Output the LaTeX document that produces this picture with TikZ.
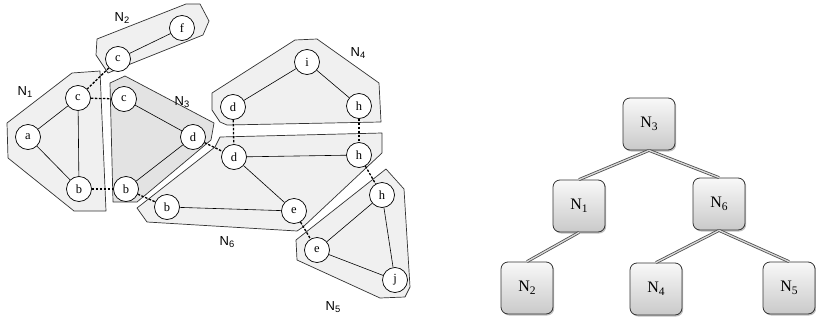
\documentclass[tikz,border=0pt]{standalone}
\usepackage{fontspec}
\setmainfont{Liberation Serif}
\newfontfamily\lblfont{Liberation Sans}
\usetikzlibrary{shadows}
\newcommand\Nsub[1]{N\raisebox{-0.35ex}{\scalebox{0.72}{#1}}}
\begin{document}
\begin{tikzpicture}[x=1pt,y=-1pt,
 vtx/.style={circle, draw, fill=white, minimum size=25pt, inner sep=0pt, font=\fontsize{12.5}{12.5}\selectfont, line width=0.7pt},
 hull/.style={draw=black!80, fill=gray!12, line width=0.7pt, line join=round},
 hulldark/.style={hull, fill=gray!22},
 lbl/.style={font=\lblfont\fontsize{13}{13}\selectfont, inner sep=0pt},
 sedge/.style={line width=0.6pt},
 dedge/.style={dash pattern=on 2.5pt off 1.5pt, line width=1.3pt},
 tbox/.style={draw=black!80, line width=0.8pt, rounded corners=7pt, minimum size=52pt, inner sep=0pt, top color=gray!5, bottom color=gray!42, drop shadow={shadow xshift=1.2pt, shadow yshift=-1.5pt, opacity=0.5}, font=\fontsize{16}{16}\selectfont},
 tlink/.style={draw=black!70, double=gray!30, double distance=1.3pt, line width=0.8pt}
]
\useasboundingbox (0,0) rectangle (816,324);
% hulls
\draw[hull] (7,123) -- (72,73) -- (100,71) -- (106,211) -- (74,211) -- (8,158) -- cycle;
\draw[hull] (97,39) -- (186,4) -- (200,4) -- (209,21) -- (203,35) -- (108,73) -- (96,55) -- cycle;
\draw[hulldark] (110,83) -- (125,76) -- (214,123) -- (211,140) -- (137,202) -- (113,202) -- cycle;
\draw[hull] (212,93) -- (295,40) -- (317,39) -- (379,83) -- (381,122) -- (227,125) -- (220,122) -- (212,110) -- cycle;
\draw[hull] (220,137) -- (382,133) -- (382,153) -- (303,227) -- (297,231) -- (147,222) -- (137,208) -- (215,147) -- cycle;
\draw[hull] (296,240) -- (386,169) -- (404,189) -- (410,287) -- (405,297) -- (380,298) -- (297,260) -- cycle;
% labels
\node[lbl] (L2) at (122,18) {\Nsub{2}};
\node[lbl] (L1) at (25,92) {\Nsub{1}};
\node[lbl] (L3) at (182,102) {\Nsub{3}};
\node[lbl] (L4) at (358,53) {\Nsub{4}};
\node[lbl] (L6) at (227,242) {\Nsub{6}};
\node[lbl] (L5) at (333,307) {\Nsub{5}};
% vertices
\node[vtx] (c2) at (118,59) {c};
\node[vtx] (f) at (182,28) {f};
\node[vtx] (c1) at (78,98) {c};
\node[vtx] (a) at (28,137) {a};
\node[vtx] (b1) at (79,189) {b};
\node[vtx] (c3) at (124,99) {c};
\node[vtx] (d3) at (193,137) {d};
\node[vtx] (b3) at (126,189) {b};
\node[vtx] (d4) at (233,107) {d};
\node[vtx] (i) at (307,62) {i};
\node[vtx] (h4) at (359,106) {h};
\node[vtx] (d6) at (234,157) {d};
\node[vtx] (h6) at (359,155) {h};
\node[vtx] (e6) at (294,211) {e};
\node[vtx] (b6) at (167,207) {b};
\node[vtx] (h5) at (382,195) {h};
\node[vtx] (e5) at (317,250) {e};
\node[vtx] (j) at (395,280) {j};
% solid edges
\draw[sedge] (c2) -- (f);
\draw[sedge] (a) -- (c1);
\draw[sedge] (a) -- (b1);
\draw[sedge] (c1) -- (b1);
\draw[sedge] (c3) -- (d3);
\draw[sedge] (d3) -- (b3);
\draw[sedge] (d4) -- (i);
\draw[sedge] (i) -- (h4);
\draw[sedge] (d6) -- (h6);
\draw[sedge] (d6) -- (e6);
\draw[sedge] (b6) -- (e6);
\draw[sedge] (h5) -- (e5);
\draw[sedge] (h5) -- (j);
\draw[sedge] (e5) -- (j);
% dashed separator edges
\draw[dedge] (c2) -- (c1);
\draw[dedge] (c1) -- (c3);
\draw[dedge] (b1) -- (b3);
\draw[dedge] (b3) -- (b6);
\draw[dedge] (d3) -- (d6);
\draw[dedge] (d4) -- (d6);
\draw[dedge] (h4) -- (h6);
\draw[dedge] (h6) -- (h5);
\draw[dedge] (e6) -- (e5);
% tree
\node[tbox] (T3) at (649,124) {\Nsub{3}};
\node[tbox] (T1) at (579,206) {\Nsub{1}};
\node[tbox] (T6) at (719,204) {\Nsub{6}};
\node[tbox] (T2) at (527,288) {\Nsub{2}};
\node[tbox] (T4) at (656,289) {\Nsub{4}};
\node[tbox] (T5) at (789,288) {\Nsub{5}};
\draw[tlink] (T3.south) -- (T1.north);
\draw[tlink] (T3.south) -- (T6.north);
\draw[tlink] (T1.south) -- (T2.north);
\draw[tlink] (T6.south) -- (T4.north);
\draw[tlink] (T6.south) -- (T5.north);
\end{tikzpicture}
\end{document}
